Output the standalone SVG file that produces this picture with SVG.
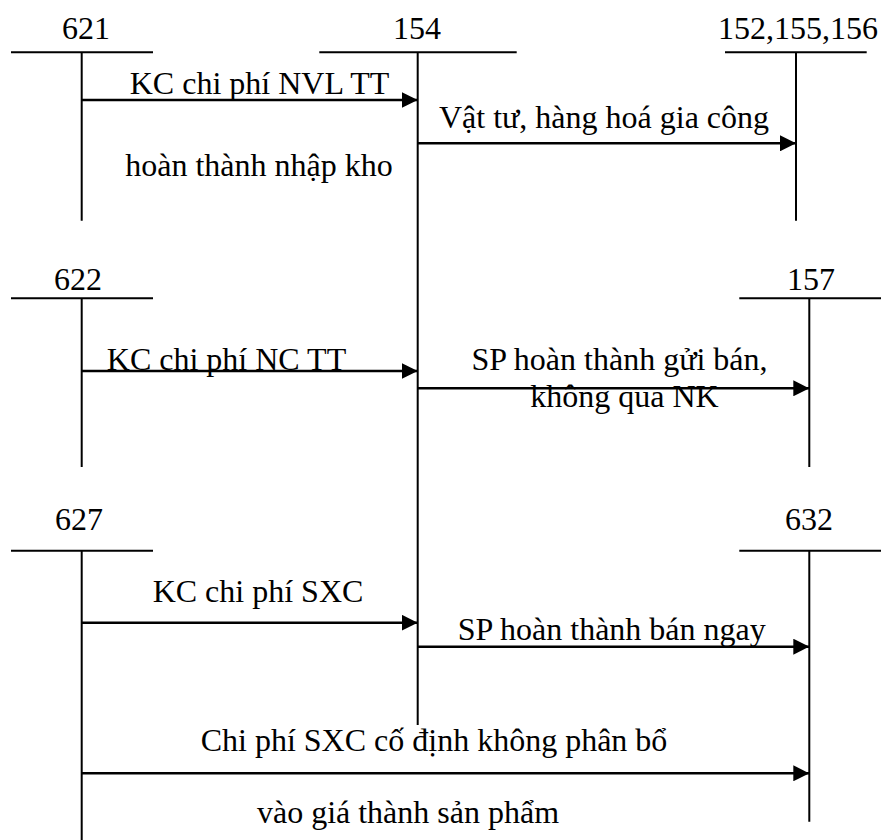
<svg xmlns="http://www.w3.org/2000/svg" width="881" height="840" viewBox="0 0 881 840">
<style>
.t{font-family:'Liberation Serif','Times New Roman',Times,'DejaVu Serif',serif;font-size:32px;fill:#000;text-anchor:middle}
.acc{stroke:#000;stroke-width:2;fill:none}
.arr{stroke:#000;stroke-width:2.5;fill:none;marker-end:url(#ah)}
</style>
<defs>
<marker id="ah" markerUnits="userSpaceOnUse" viewBox="0 0 16 16" refX="16" refY="8" markerWidth="16" markerHeight="16" orient="auto">
<path d="M0,0 L16,8 L0,16 z" fill="#000"/>
</marker>
</defs>
<rect width="881" height="840" fill="#fff"/>
<g id="acc621"><text class="t" font-family="Liberation Serif, serif" x="86" y="39">621</text><path class="acc" d="M11,52.3 H153 M81.7,52.3 V220.7"/></g>
<g id="acc154"><text class="t" x="417" y="39">154</text><path class="acc" d="M319.3,52.3 H516.7 M417.7,52.3 V725"/></g>
<g id="acc152"><text class="t" x="798" y="39">152,155,156</text><path class="acc" d="M725,52.3 H866.7 M796,52.3 V220.7"/></g>
<g id="acc622"><text class="t" x="78" y="290">622</text><path class="acc" d="M11,298.3 H153 M81.7,298.3 V467"/></g>
<g id="acc157"><text class="t" x="811" y="290">157</text><path class="acc" d="M739.3,298.3 H881 M809.3,298.3 V467"/></g>
<g id="acc627"><text class="t" x="79" y="530">627</text><path class="acc" d="M11,550.7 H153 M81.7,550.7 V840"/></g>
<g id="acc632"><text class="t" x="809" y="530">632</text><path class="acc" d="M739.3,550.7 H881 M809.3,550.7 V821.7"/></g>
<g id="connectors">
<path class="arr" d="M81.7,100 H417.7"/>
<text class="t" x="259.5" y="94">KC chi phí NVL TT</text>
<text class="t" x="259" y="176">hoàn thành nhập kho</text>
<path class="arr" d="M417.7,143.3 H796"/>
<text class="t" x="604" y="128">Vật tư, hàng hoá gia công</text>
<path class="arr" d="M81.7,371 H417.7"/>
<text class="t" x="226.5" y="370">KC chi phí NC TT</text>
<path class="arr" d="M417.7,388.3 H809.3"/>
<text class="t" x="619.5" y="370">SP hoàn thành gửi bán,</text>
<text class="t" x="624.5" y="407">không qua NK</text>
<path class="arr" d="M81.7,622.7 H417.7"/>
<text class="t" x="258" y="602">KC chi phí SXC</text>
<path class="arr" d="M417.7,646.7 H809.3"/>
<text class="t" x="611.7" y="640">SP hoàn thành bán ngay</text>
<path class="arr" d="M81.7,773.3 H809.3"/>
<text class="t" x="434" y="751">Chi phí SXC cố định không phân bổ</text>
<text class="t" x="408" y="823">vào giá thành sản phẩm</text>
</g>
</svg>
